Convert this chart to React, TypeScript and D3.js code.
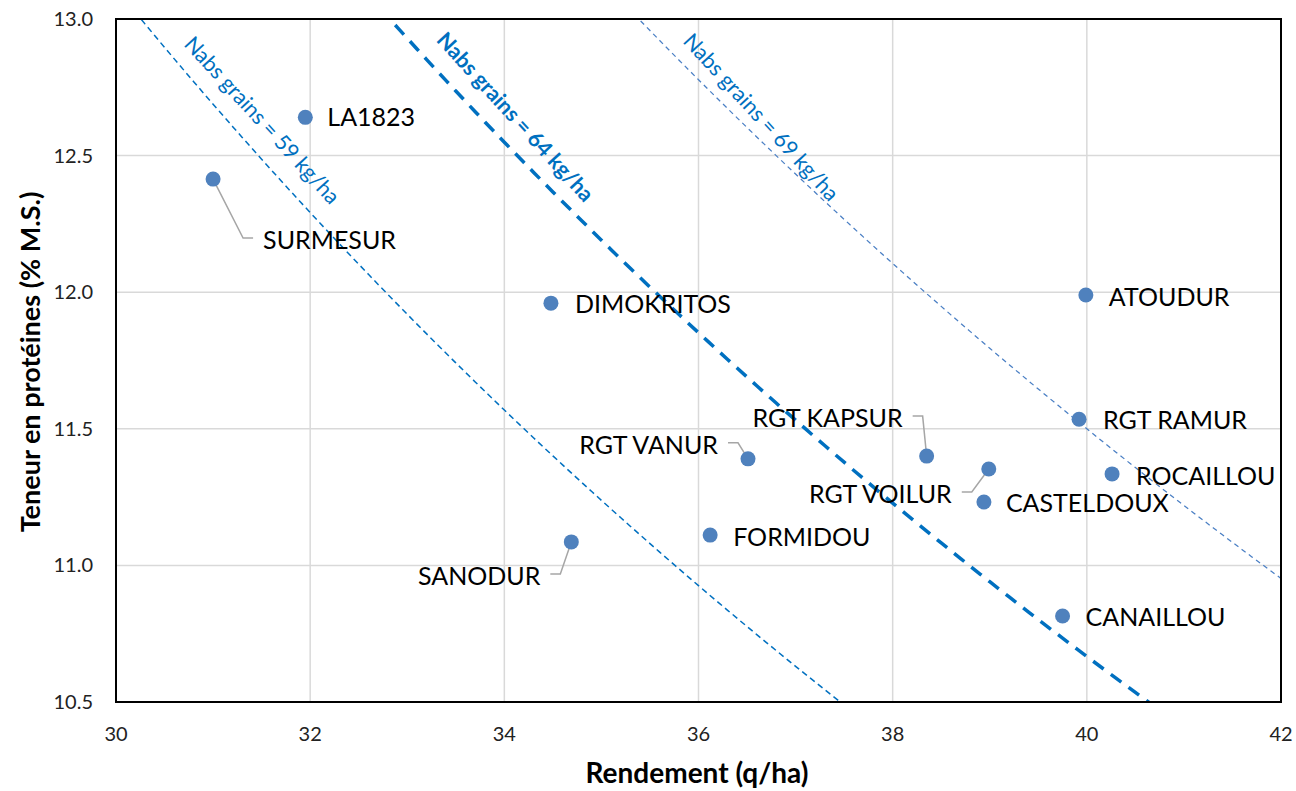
import React, { useEffect, useRef } from 'react';
import * as d3 from 'd3';

// varieties: rendement (q/ha) and teneur en protéines (% M.S.)
const varieties = ['LA1823', 'SURMESUR', 'DIMOKRITOS', 'ATOUDUR', 'RGT RAMUR', 'ROCAILLOU', 'RGT KAPSUR', 'RGT VOILUR', 'CASTELDOUX', 'RGT VANUR', 'FORMIDOU', 'SANODUR', 'CANAILLOU'];
const rendement = [31.95, 31.0, 34.48, 39.99, 39.92, 40.26, 38.35, 38.99, 38.94, 36.51, 36.12, 34.69, 39.75];
const proteines = [12.64, 12.414, 11.96, 11.99, 11.535, 11.335, 11.40, 11.353, 11.232, 11.39, 11.111, 11.086, 10.815];

// iso-lines of nitrogen absorbed in grains (kg/ha) = rendement * proteines * 0.15
const nabsLevels = [59, 64, 69];
const nabsCoef = 0.15;

const xTicks = [30, 32, 34, 36, 38, 40, 42];
const yTicks = [10.5, 11.0, 11.5, 12.0, 12.5, 13.0];

// label placement (px offsets from the point, anchor, leader line)
const labelLayout = [
  { dx: 22, dy: 0, anchor: 'start', leader: false },
  { dx: 50, dy: 61, anchor: 'start', leader: true },
  { dx: 24, dy: 1, anchor: 'start', leader: false },
  { dx: 23, dy: 2, anchor: 'start', leader: false },
  { dx: 24, dy: 1, anchor: 'start', leader: false },
  { dx: 24, dy: 2, anchor: 'start', leader: false },
  { dx: -24, dy: -38, anchor: 'end', leader: true },
  { dx: -37, dy: 25, anchor: 'end', leader: true },
  { dx: 22, dy: 1, anchor: 'start', leader: false },
  { dx: -30, dy: -14, anchor: 'end', leader: true },
  { dx: 23, dy: 2, anchor: 'start', leader: false },
  { dx: -31, dy: 34, anchor: 'end', leader: true },
  { dx: 23, dy: 1, anchor: 'start', leader: false },
];

// iso-line labels: start position in data units, style
const nabsLabelPos = [
  { x: 30.69, y: 12.905, bold: false },
  { x: 33.29, y: 12.92, bold: true },
  { x: 35.83, y: 12.916, bold: false },
];
const nabsStyle = [
  { color: '#0070C0', width: 1.5, dash: '6,4' },
  { color: '#0070C0', width: 3.5, dash: '13,9' },
  { color: '#4a7fc4', width: 1.25, dash: '5,4' },
];

const W = 1296;
const H = 791;
const FONT = 'Lato, "Open Sans", sans-serif';

const App = () => {
  const ref = useRef(null);

  useEffect(() => {
    const svg = d3.select(ref.current);
    svg.selectAll('*').remove();

    const left = 116, right = 1281, top = 19, bottom = 702;
    const x = d3.scaleLinear().domain([30, 42]).range([left, right]);
    const y = d3.scaleLinear().domain([10.5, 13]).range([bottom, top]);

    svg.append('rect').attr('width', W).attr('height', H).attr('fill', '#fff');

    svg.append('clipPath').attr('id', 'plotclip')
      .append('rect').attr('x', left).attr('y', top).attr('width', right - left).attr('height', bottom - top);

    // grid
    const grid = svg.append('g').attr('stroke', '#d9d9d9').attr('stroke-width', 1.5);
    xTicks.forEach(t => grid.append('line').attr('x1', x(t)).attr('x2', x(t)).attr('y1', top).attr('y2', bottom));
    yTicks.forEach(t => grid.append('line').attr('y1', y(t)).attr('y2', y(t)).attr('x1', left).attr('x2', right));

    // tick labels
    svg.append('g').selectAll('text').data(yTicks).join('text')
      .attr('x', left - 23).attr('y', d => y(d)).attr('dy', '0.35em')
      .attr('text-anchor', 'end').attr('font-family', FONT).attr('font-size', 20).attr('fill', '#222')
      .text(d => d3.format('.1f')(d));
    svg.append('g').selectAll('text').data(xTicks).join('text')
      .attr('x', d => x(d)).attr('y', bottom + 39)
      .attr('text-anchor', 'middle').attr('font-family', FONT).attr('font-size', 20).attr('fill', '#222')
      .text(d => d);

    // iso-lines
    const curveX = d3.range(30, 42.01, 0.1);
    const line = d3.line().x(d => x(d[0])).y(d => y(d[1]));
    const isoG = svg.append('g').attr('clip-path', 'url(#plotclip)');
    nabsLevels.forEach((n, i) => {
      const pts = curveX.map(v => [v, n / (nabsCoef * v)]);
      isoG.append('path').attr('d', line(pts)).attr('fill', 'none')
        .attr('stroke', nabsStyle[i].color).attr('stroke-width', nabsStyle[i].width)
        .attr('stroke-dasharray', nabsStyle[i].dash);
    });
    nabsLevels.forEach((n, i) => {
      const p = nabsLabelPos[i];
      svg.append('text')
        .attr('transform', `translate(${x(p.x)},${y(p.y)}) rotate(47.5)`)
        .attr('font-family', FONT).attr('font-size', 21.5)
        .attr('font-weight', p.bold ? 'bold' : 'normal')
        .attr('fill', '#0070C0')
        .text(`Nabs grains = ${n} kg/ha`);
    });

    // border
    svg.append('rect').attr('x', left).attr('y', top).attr('width', right - left).attr('height', bottom - top)
      .attr('fill', 'none').attr('stroke', '#000').attr('stroke-width', 2);

    // leaders
    varieties.forEach((name, i) => {
      const L = labelLayout[i];
      if (!L.leader) return;
      const px = x(rendement[i]), py = y(proteines[i]);
      const lx = px + L.dx, ly = py + L.dy - 2;
      const s = L.anchor === 'start' ? -1 : 1;
      svg.append('polyline')
        .attr('points', `${px},${py} ${lx + s * 20},${ly} ${lx + s * 10},${ly}`)
        .attr('fill', 'none').attr('stroke', '#a6a6a6').attr('stroke-width', 1.5);
    });

    // points
    svg.append('g').selectAll('circle').data(varieties).join('circle')
      .attr('cx', (d, i) => x(rendement[i])).attr('cy', (d, i) => y(proteines[i]))
      .attr('r', 7.5).attr('fill', '#4f81bd');

    // data labels
    svg.append('g').selectAll('text').data(varieties).join('text')
      .attr('x', (d, i) => x(rendement[i]) + labelLayout[i].dx)
      .attr('y', (d, i) => y(proteines[i]) + labelLayout[i].dy)
      .attr('dy', '0.36em')
      .attr('text-anchor', (d, i) => labelLayout[i].anchor)
      .attr('font-family', FONT).attr('font-size', 25).attr('fill', '#000')
      .text(d => d);

    // axis titles
    svg.append('text').attr('x', 697).attr('y', 783)
      .attr('text-anchor', 'middle').attr('font-family', FONT).attr('font-size', 28).attr('font-weight', 'bold')
      .text('Rendement (q/ha)');
    svg.append('text').attr('transform', `translate(40,362) rotate(-90)`)
      .attr('text-anchor', 'middle').attr('font-family', FONT).attr('font-size', 27).attr('font-weight', 'bold')
      .text('Teneur en protéines (% M.S.)');
  }, []);

  return <svg ref={ref} width={W} height={H} style={{ position: 'absolute', left: 0, top: 0 }}></svg>;
};

export default App;
